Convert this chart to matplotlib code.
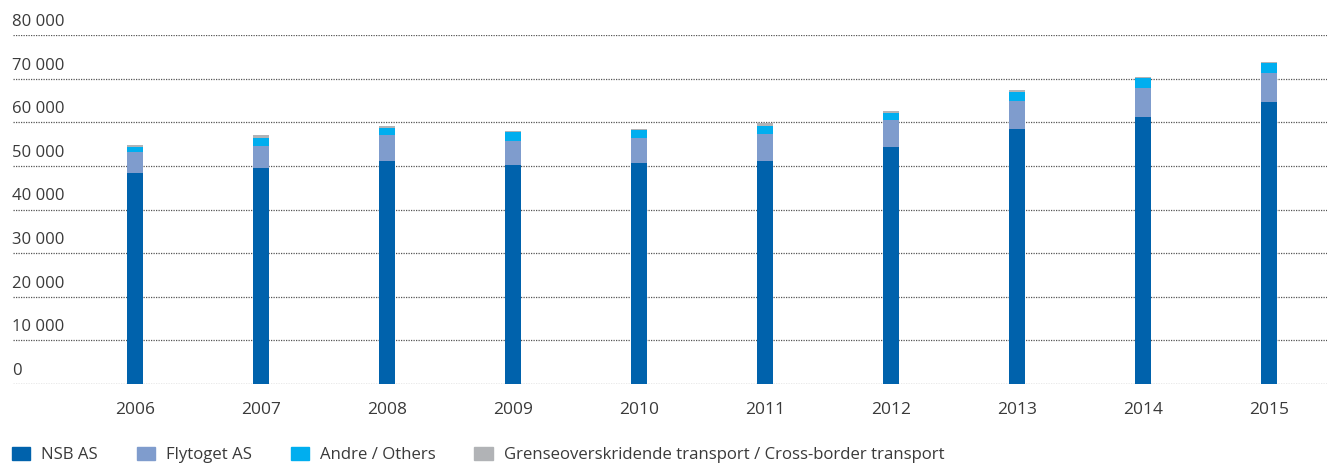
import numpy as np
import matplotlib.pyplot as plt
from matplotlib.patches import Patch
from matplotlib.transforms import blended_transform_factory, offset_copy

# passenger-km per operator
years = ['2006', '2007', '2008', '2009', '2010', '2011', '2012', '2013', '2014', '2015']
nsb = [48400, 49540, 51150, 50230, 50690, 51150, 54360, 58490, 61240, 64680]
flytoget = [4800, 5050, 5960, 5500, 5730, 6190, 6190, 6420, 6650, 6650]
andre = [1160, 1830, 1610, 2070, 1840, 1830, 1610, 2060, 2290, 2290]
grense = [340, 690, 450, 300, 140, 690, 450, 390, 120, 230]
yticks = [0, 10000, 20000, 30000, 40000, 50000, 60000, 70000, 80000]
names = ['NSB AS', 'Flytoget AS', 'Andre / Others',
         'Grenseoverskridende transport / Cross-border transport']
colors = ['#0062ac', '#7f9ccd', '#00aeef', '#b1b3b6']

plt.rcParams['font.family'] = ['Open Sans', 'DejaVu Sans']
txtcol = '#3a3a3a'
fs = 12

fig = plt.figure(figsize=(13.27, 4.63), dpi=100)
ax = fig.add_axes([13/1327, 79/463, 1314/1327, 349/463])

x = np.arange(len(years))
w = 0.127
bottom = np.zeros(len(years))
for vals, c in zip([nsb, flytoget, andre, grense], colors):
    ax.bar(x, vals, w, bottom=bottom, color=c, zorder=3)
    bottom = bottom + np.array(vals)

ax.set_xlim(-0.968, 9.46)
ax.set_ylim(0, 80000)

for v in yticks:
    ax.axhline(v, color='#555555', lw=0.9, ls=(0, (1, 1)), zorder=1)

# y labels sit above each gridline
tr = blended_transform_factory(ax.transAxes, ax.transData)
tr = offset_copy(tr, fig=fig, x=-1, y=5, units='dots')
for v in yticks:
    lab = '0' if v == 0 else '{:,}'.format(v).replace(',', ' ')
    ax.text(0, v, lab, transform=tr, ha='left', va='bottom',
            fontsize=fs, color=txtcol)

ax.set_yticks([])
ax.set_xticks(x)
ax.set_xticklabels(years, fontsize=12.5, color=txtcol)
ax.tick_params(axis='x', length=0, pad=13)
for s in ax.spines.values():
    s.set_visible(False)

handles = [Patch(facecolor=c, edgecolor=c, label=n) for c, n in zip(colors, names)]
fig.legend(handles=handles, loc='center left', bbox_to_anchor=(12/1327, 8/463),
           ncol=4, frameon=False, fontsize=12.1, labelcolor=txtcol,
           handlelength=1.1, handleheight=0.8, handletextpad=0.65,
           columnspacing=2.3, borderpad=0, borderaxespad=0)

fig.savefig('out.png', dpi=100)
